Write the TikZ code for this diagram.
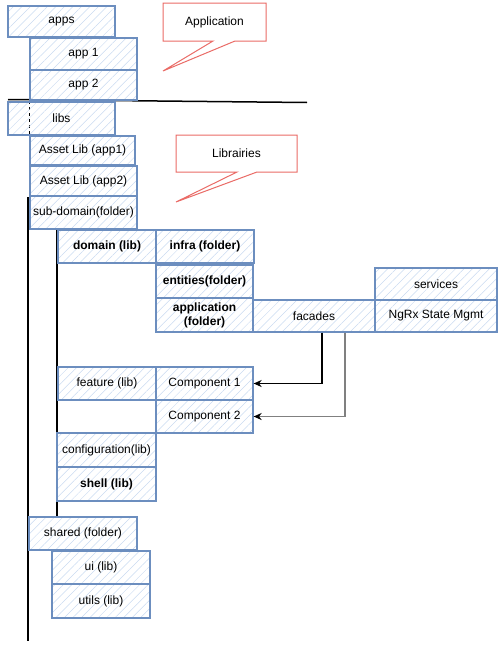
\documentclass[tikz,border=0pt]{standalone}
\usepackage{fontspec}
\setmainfont{Liberation Sans}
\usepackage{xcolor}
\usepackage{tikz}
\usetikzlibrary{calc,patterns.meta,arrows.meta}
\definecolor{edge}{HTML}{6C8EBF}
\definecolor{hatch}{HTML}{C9DAF0}
\definecolor{note}{HTML}{EA6B66}
\definecolor{ink}{HTML}{000000}
\definecolor{grayline}{HTML}{808080}
\tikzset{
  box/.style={draw=edge, line width=1.3pt, inner sep=0pt, minimum height=32pt,
    pattern={Lines[angle=45,distance=6pt,line width=0.5pt]}, pattern color=hatch,
    font=\fontsize{12}{14}\selectfont, text=ink},
  dirbox/.style={box, minimum width=107pt},
  libbox/.style={box, minimum width=98pt},
  widebox/.style={box, minimum width=122pt},
  callout/.style={draw=note, line width=1pt, fill=white, line join=miter},
  lab/.style={text=ink, font=\fontsize{12}{14}\selectfont},
  sep/.style={draw=ink, line width=1.5pt},
  tree/.style={draw=ink, line width=1.5pt},
  arr/.style={draw=ink, line width=1.3pt, -{Stealth[length=8pt,width=7pt]}},
}
\begin{document}
\begin{tikzpicture}[x=1pt,y=-1pt]
  \useasboundingbox (0,0) rectangle (498,648);

  % tree lines
  \draw[draw=ink, line width=0.8pt, dashed] (29,101) -- (29,166);
  \draw[tree] (28,197) -- (28,641);
  \draw[tree] (57,230) -- (57,517);
  \draw[sep] (8,99.5) -- (307,102.5);

  % apps
  \node[dirbox, minimum height=31pt] (apps) at (61.5,21.5) {apps};
  \node[dirbox] (app1) at (83.5,54) {app 1};
  \node[dirbox, minimum height=30pt] (app2) at (83.5,85) {app 2};

  % libs
  \node[dirbox, minimum height=33pt] (libs) at (61.5,118.5) {libs};
  \node[dirbox, minimum width=105pt, minimum height=29pt] (asset1) at (82.5,150.5) {Asset Lib (app1)};
  \node[dirbox, minimum height=30pt] (asset2) at (83.5,181) {Asset Lib (app2)};
  \node[dirbox, minimum height=33pt] (subdom) at (83.5,212.5) {sub-domain(folder)};

  % domain
  \node[libbox, minimum height=33pt, font=\bfseries\fontsize{12}{14}\selectfont] (domain) at (107,246.5) {domain (lib)};
  \node[libbox, minimum height=33pt, font=\bfseries\fontsize{12}{14}\selectfont] (infra) at (205,246.5) {infra (folder)};
  \node[libbox, minimum width=97pt, minimum height=33pt, font=\bfseries\fontsize{12}{14}\selectfont] (entities) at (204.5,281.5) {entities(folder)};
  \node[libbox, minimum width=97pt, minimum height=34pt, align=center, font=\bfseries\fontsize{12}{14}\selectfont] (appfolder) at (204.5,315) {application\\(folder)};
  \node[widebox] (facades) at (314,316) {facades};
  \node[widebox] (services) at (436,284) {services};
  \node[widebox] (ngrx) at (436,316) {NgRx State Mgmt};

  % feature
  \node[libbox, minimum height=33pt] (feature) at (107,383.5) {feature (lib)};
  \node[libbox, minimum width=97pt, minimum height=33pt] (comp1) at (204.5,383.5) {Component 1};
  \node[libbox, minimum width=97pt, minimum height=33pt] (comp2) at (204.5,416.5) {Component 2};
  \node[libbox, minimum width=99pt, minimum height=34pt] (config) at (106.5,450) {configuration(lib)};
  \node[libbox, minimum width=99pt, minimum height=34pt, font=\bfseries\fontsize{12}{14}\selectfont] (shell) at (106.5,484) {shell (lib)};

  % shared
  \node[dirbox, minimum width=108pt, minimum height=33pt] (shared) at (83,533.5) {shared (folder)};
  \node[libbox, minimum height=33pt] (ui) at (101,567.5) {ui (lib)};
  \node[libbox, minimum height=34pt] (utils) at (101,601) {utils (lib)};

  % facades to components
  \draw[arr] ([xshift=8pt]facades.south) |- (comp1.east);
  \draw[arr, draw=grayline, -{Stealth[length=8pt,width=7pt,color=ink]}] ([xshift=31pt]facades.south) |- (comp2.east);

  % callouts
  \draw[callout] (163,3) -- (266,3) -- (266,41) -- (235,41) -- (163,71) -- (213,41) -- (163,41) -- cycle;
  \node[lab] (appnote) at (214.5,22) {Application};
  \draw[callout] (176,135) -- (297,135) -- (297,172) -- (257,172) -- (176,202) -- (237,172) -- (176,172) -- cycle;
  \node[lab] (libnote) at (236.5,153.5) {Librairies};
\end{tikzpicture}
\end{document}
